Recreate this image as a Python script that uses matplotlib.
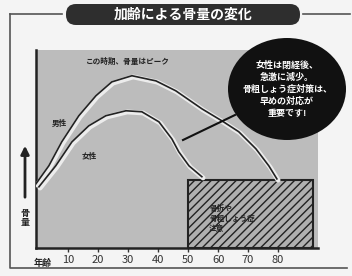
import matplotlib.pyplot as plt
import matplotlib.transforms as mtransforms
from matplotlib.patches import FancyBboxPatch, Ellipse, Rectangle

plt.rcParams['font.family'] = ['Noto Sans CJK JP', 'DejaVu Sans']

# edad (años) y masa ósea relativa
male_age = [-0.3, 4, 8.3, 14, 19.7, 25, 31.7, 39.7, 46.3, 55, 61.7, 67.3, 73, 77.3, 80]
male_val = [31.8, 40.9, 53, 66.2, 76.3, 83.3, 86.4, 83.8, 78.8, 69.7, 63.6, 58.1, 49.5, 40.9, 34.3]
female_age = [0.7, 6.3, 11.7, 17.3, 23, 29.7, 35, 40.7, 45, 47.3, 50.7, 55]
female_val = [30.3, 40.9, 53, 61.1, 66.2, 68.7, 68.2, 63.1, 54.5, 48, 40.9, 35.4]
ticks = [10, 20, 30, 40, 50, 60, 70, 80]
risk_zone = (50, 91.7, 34.3)  # desde, hasta, altura

W, H = 352, 276
fig = plt.figure(figsize=(W / 100, H / 100), dpi=100)
fig.patch.set_facecolor('#f4f4f4')

ax = fig.add_axes([36 / W, (H - 248) / H, (318 - 36) / W, (248 - 50) / H])
ax.set_facecolor('#bcbcbc')
ax.set_xlim(-0.67, 93.3)
ax.set_ylim(0, 100)
for s in ['top', 'right']:
    ax.spines[s].set_visible(False)
for s in ['left', 'bottom']:
    ax.spines[s].set_linewidth(1.8)
    ax.spines[s].set_color('#222222')
ax.set_yticks([])
ax.set_xticks(ticks)
ax.set_xticklabels([str(t) for t in ticks], fontsize=8, color='#333333')
ax.tick_params(axis='x', length=3, width=1, color='#333333', pad=2)
ax.text(1.5, -8, '年齢', fontsize=6.5, fontweight='bold', ha='center', va='center',
        color='#222222', clip_on=False)

# zona de riesgo rayada
ax.add_patch(Rectangle((risk_zone[0], 0), risk_zone[1] - risk_zone[0], risk_zone[2],
                       facecolor='#b0b0b0', edgecolor='#222222', hatch='////', lw=1.5, zorder=2))
ax.text(57, 15, '骨折や\n骨粗しょう症\n注意', fontsize=5.5, fontweight='bold', ha='left',
        va='center', color='#222222', linespacing=1.1, zorder=3)

# curvas: banda blanca con línea oscura desplazada
shift = mtransforms.ScaledTranslation(-1.2 / 100, 1.2 / 100, fig.dpi_scale_trans)
for a, v in [(male_age, male_val), (female_age, female_val)]:
    ax.plot(a, v, color='#ececec', lw=3.5, zorder=4, solid_capstyle='round')
    ax.plot(a, v, color='#222222', lw=1.2, zorder=5, transform=ax.transData + shift)

ax.text(30, 94, 'この時期、骨量はピーク', fontsize=5.5, fontweight='bold', ha='center',
        va='center', color='#222222')
ax.text(7, 63, '男性', fontsize=5.5, fontweight='bold', ha='center', va='center', color='#222222')
ax.text(17, 46, '女性', fontsize=5.5, fontweight='bold', ha='center', va='center', color='#222222')

# capa para decoraciones en coordenadas de pixel (encima del gráfico)
deco = fig.add_axes([0, 0, 1, 1])
deco.set_zorder(5)
deco.set_xlim(0, W)
deco.set_ylim(H, 0)
deco.axis('off')
deco.plot([10, 10, 347], [14, 268, 268], color='#555555', lw=1.2)
deco.plot([10, 62], [14, 14], color='#555555', lw=1.2)
deco.plot([303, 350], [14, 14], color='#555555', lw=1.2)
deco.add_patch(FancyBboxPatch((66, 4), 234, 21, boxstyle='round,pad=0,rounding_size=10',
                              facecolor='#2e2e2e', edgecolor='none'))
deco.text(183, 15, '加齢による骨量の変化', color='white', fontsize=10, fontweight='bold',
          ha='center', va='center')
# flecha y etiqueta del eje y
deco.annotate('', xy=(25, 143), xytext=(25, 200),
              arrowprops=dict(arrowstyle='-|>', color='#222222', lw=2, mutation_scale=12))
deco.text(25, 218, '骨\n量', fontsize=6.5, fontweight='bold', ha='center', va='center',
          linespacing=1.0, color='#222222')

# globo con comentario
deco.plot([235, 183], [115, 140], color='#111111', lw=1.5, zorder=6)
deco.add_patch(Ellipse((287, 89), 118, 102, facecolor='#111111', edgecolor='none', zorder=7))
deco.text(287, 89, '女性は閉経後、\n急激に減少。\n骨粗しょう症対策は、\n早めの対応が\n重要です!',
          color='white', fontsize=6.5, fontweight='bold', ha='center', va='center',
          linespacing=1.4, zorder=8)

fig.savefig('out.png', dpi=100, facecolor=fig.get_facecolor())
